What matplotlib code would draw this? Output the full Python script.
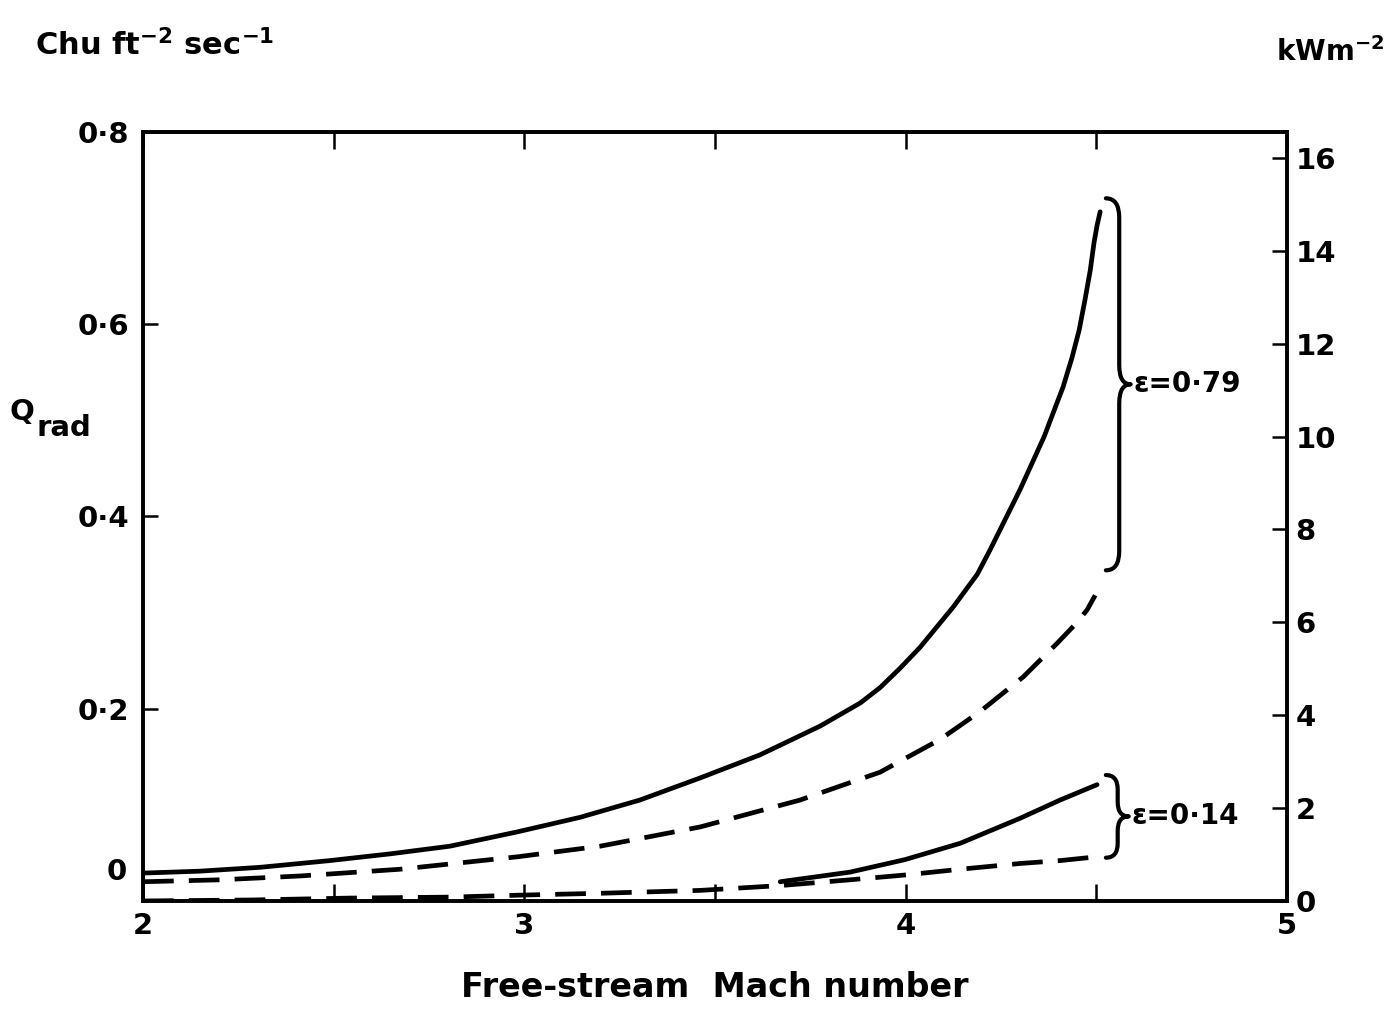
import matplotlib.pyplot as plt
import numpy as np
from matplotlib.path import Path
from matplotlib.patches import PathPatch
import matplotlib.transforms as mtransforms

# Radiative heat flux to the skin against free-stream Mach number
# Q_rad in Chu ft^-2 sec^-1, emissivity 0.79 and 0.14, solid and dashed cases

mach_79_solid = [2.0, 2.149, 2.307, 2.49, 2.648, 2.805, 2.983, 3.146, 3.303, 3.461, 3.618,
                 3.776, 3.881, 3.933, 3.985, 4.038, 4.125, 4.188, 4.221, 4.30, 4.363,
                 4.413, 4.436, 4.455, 4.470, 4.484, 4.494, 4.502, 4.51]
q_79_solid = [0.029, 0.031, 0.035, 0.042, 0.049, 0.057, 0.072, 0.087, 0.105, 0.128, 0.152,
              0.182, 0.206, 0.222, 0.242, 0.264, 0.306, 0.340, 0.365, 0.428, 0.483,
              0.535, 0.565, 0.594, 0.625, 0.656, 0.685, 0.703, 0.717]

mach_79_dash = [2.0, 2.202, 2.412, 2.674, 2.983, 3.199, 3.461, 3.723, 3.933, 4.09, 4.195,
                4.308, 4.397, 4.450, 4.476, 4.497]
q_79_dash = [0.020, 0.022, 0.026, 0.033, 0.046, 0.057, 0.077, 0.105, 0.134, 0.168, 0.197,
             0.233, 0.268, 0.290, 0.303, 0.318]

mach_14_solid = [3.671, 3.854, 3.998, 4.143, 4.30, 4.405, 4.502]
q_14_solid = [0.020, 0.030, 0.043, 0.060, 0.086, 0.105, 0.121]

mach_14_dash = [2.0, 2.281, 2.543, 2.805, 2.983, 3.199, 3.461, 3.671, 3.854, 3.998, 4.143,
                4.30, 4.405, 4.502]
q_14_dash = [0.0, 0.001, 0.003, 0.004, 0.006, 0.008, 0.011, 0.016, 0.022, 0.027, 0.033,
             0.039, 0.042, 0.046]

left_ticks = [0.2, 0.4, 0.6, 0.8]
left_labels = ["0·2", "0·4", "0·6", "0·8"]
right_ticks = [0, 2, 4, 6, 8, 10, 12, 14, 16]
x_ticks = [2, 2.5, 3, 3.5, 4, 4.5, 5]
x_labels = ["2", "", "3", "", "4", "", "5"]

# kW m^-2 per Chu ft^-2 sec^-1 as drawn on the right-hand scale
kw_per_chu = 20.7

plt.rcParams['font.family'] = ['DejaVu Sans']
plt.rcParams['font.weight'] = 'bold'
plt.rcParams['axes.labelweight'] = 'bold'
plt.rcParams['mathtext.fontset'] = 'dejavusans'
plt.rcParams['mathtext.default'] = 'bf'

fig = plt.figure(figsize=(13.9, 10.13), dpi=100)
ax = fig.add_axes([0.1029, 0.1106, 0.8230, 0.7591])

lw = 3.4
dash = (0, (6.5, 3.2))
ax.plot(mach_79_solid, q_79_solid, color='black', lw=lw, solid_capstyle='round')
ax.plot(mach_79_dash, q_79_dash, color='black', lw=lw, linestyle=dash)
ax.plot(mach_14_solid, q_14_solid, color='black', lw=lw, solid_capstyle='round')
ax.plot(mach_14_dash, q_14_dash, color='black', lw=lw, linestyle=dash)

ax.set_xlim(2, 5)
ax.set_ylim(0, 0.8)
for sp in ax.spines.values():
    sp.set_linewidth(2.6)

ax.set_xticks(x_ticks)
ax.set_xticklabels(x_labels)
ax.set_yticks(left_ticks)
ax.set_yticklabels(left_labels)
ax.tick_params(axis='x', direction='in', top=True, length=12, width=1.8, pad=8, labelsize=21)
ax.tick_params(axis='y', direction='in', length=11, width=1.8, pad=10, labelsize=21)

# the zero of the left scale sits a little above the frame
trans = mtransforms.blended_transform_factory(ax.transAxes, ax.transData)
ax.text(-0.014, 0.03, "0", transform=trans, ha='right', va='center', fontsize=21)

ax2 = ax.twinx()
ax2.set_ylim(0, 0.8 * kw_per_chu)
ax2.set_yticks(right_ticks)
ax2.tick_params(axis='y', direction='in', length=11, width=1.8, pad=6, labelsize=21)
for sp in ax2.spines.values():
    sp.set_linewidth(2.6)


def brace(axis, x_spine, x_hook, x_tip, y_lo, y_hi, r):
    ym = (y_lo + y_hi) / 2
    verts = [(x_hook, y_hi), (x_spine, y_hi), (x_spine, y_hi - r),
             (x_spine, ym + r), (x_spine, ym), (x_tip, ym),
             (x_spine, ym), (x_spine, ym - r),
             (x_spine, y_lo + r), (x_spine, y_lo), (x_hook, y_lo)]
    codes = [Path.MOVETO, Path.CURVE3, Path.CURVE3, Path.LINETO, Path.CURVE3, Path.CURVE3,
             Path.CURVE3, Path.CURVE3, Path.LINETO, Path.CURVE3, Path.CURVE3]
    axis.add_patch(PathPatch(Path(verts, codes), fill=False, lw=3.0, color='black',
                             capstyle='round', joinstyle='round'))
    return ym


ym = brace(ax, 4.56, 4.525, 4.59, 0.344, 0.731, 0.02)
ax.text(4.598, ym, "ε=0·79", ha='left', va='center', fontsize=20)
ym = brace(ax, 4.556, 4.525, 4.585, 0.045, 0.131, 0.015)
ax.text(4.593, ym, "ε=0·14", ha='left', va='center', fontsize=20)

ax.set_xlabel("Free-stream  Mach number", fontsize=24, labelpad=22)

fig.text(0.025, 1 - 45 / 1013, "Chu ft$^{-2}$ sec$^{-1}$", fontsize=22, ha='left', va='center')
fig.text(0.918, 1 - 52 / 1013, "kWm$^{-2}$", fontsize=20, ha='left', va='center')
fig.text(0.007, 1 - 412 / 1013, "Q", fontsize=21, ha='left', va='center')
fig.text(0.026, 1 - 428 / 1013, "rad", fontsize=21, ha='left', va='center')

fig.savefig("out.png", dpi=100)
